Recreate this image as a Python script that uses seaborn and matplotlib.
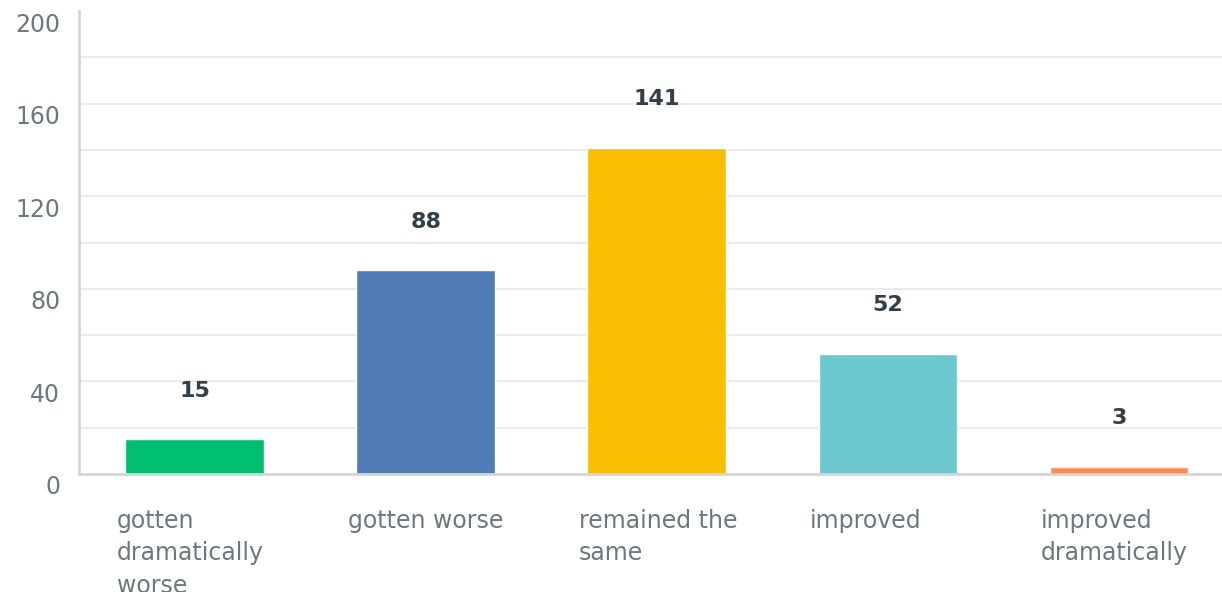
import matplotlib
matplotlib.use("Agg")
import matplotlib.pyplot as plt
import matplotlib.transforms as mtransforms
import seaborn as sns
import pandas as pd

categories = ["gotten\ndramatically\nworse", "gotten worse", "remained the\nsame",
              "improved", "improved\ndramatically"]
values = [15, 88, 141, 52, 3]
colors = ["#00BF6F", "#507CB6", "#F9BE00", "#6BC8CD", "#FF8B4F"]
yticks = [0, 40, 80, 120, 160, 200]

sns.set_theme(style="white")
plt.rcParams["font.family"] = ["DejaVu Sans"]

W, H = 1222, 592
fig = plt.figure(figsize=(W / 100, H / 100), dpi=100)
ax = fig.add_axes([79 / W, (H - 474) / H, 1 - 79 / W, (474 - 11) / H])

df = pd.DataFrame({"cat": categories, "val": values})
sns.barplot(data=df, x="cat", y="val", hue="cat", palette=colors, width=0.6,
            legend=False, ax=ax, saturation=1)

ax.set_xlim(-0.5, 4.446)
ax.set_ylim(0, 200)
ax.set_xlabel("")
ax.set_ylabel("")

for y in range(20, 200, 20):
    ax.axhline(y, color="#EBEBEB", lw=1.5, zorder=0)

for s in ["top", "right"]:
    ax.spines[s].set_visible(False)
for s in ["left", "bottom"]:
    ax.spines[s].set_color("#D5D5D5")
    ax.spines[s].set_linewidth(2)

ax.set_yticks(yticks)
ax.set_yticklabels([str(t) for t in yticks], fontsize=17, color="#6B787F")
ax.tick_params(axis="y", length=0, pad=13.5)
dy = mtransforms.ScaledTranslation(0, -11 / 100, fig.dpi_scale_trans)
for lab in ax.get_yticklabels():
    lab.set_transform(lab.get_transform() + dy)

ax.set_xticks(range(len(categories)))
ax.set_xticklabels(categories, fontsize=17, color="#6B787F", ha="left",
                   va="top", linespacing=1.45)
ax.tick_params(axis="x", length=0, pad=25)
dx = mtransforms.ScaledTranslation(-78 / 100, 0, fig.dpi_scale_trans)
for lab in ax.get_xticklabels():
    lab.set_transform(lab.get_transform() + dx)

for i, v in enumerate(values):
    ax.annotate(str(v), (i, v), xytext=(0, 35), textcoords="offset points",
                ha="center", va="center", fontsize=16, fontweight="bold",
                color="#333E48")

fig.savefig("out.png", dpi=100)
